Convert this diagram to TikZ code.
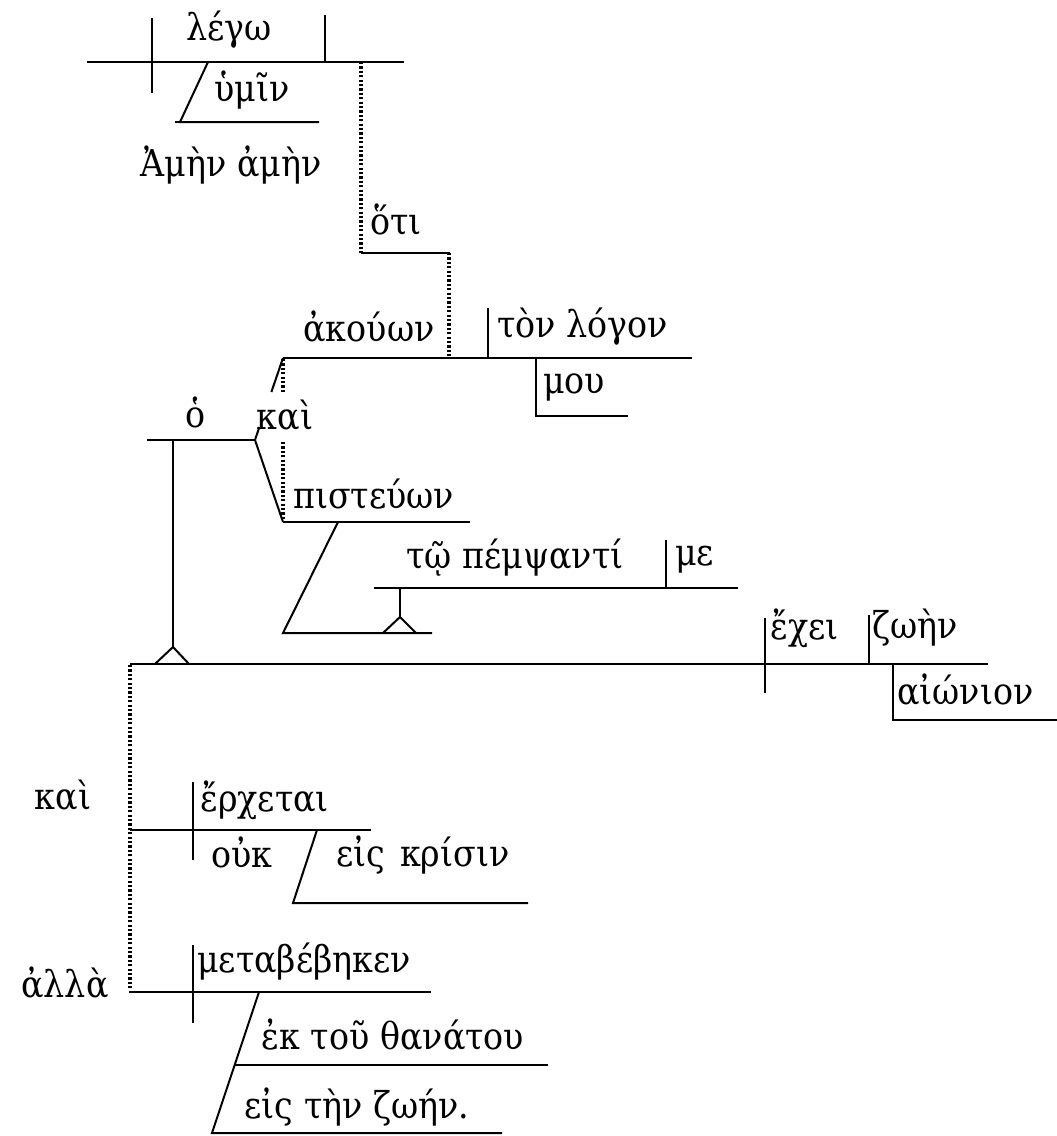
\documentclass[tikz,border=0pt]{standalone}
\usepackage{fontspec}
\setmainfont{DejaVu Serif}[FakeStretch=0.9]
\begin{document}
\begin{tikzpicture}[x=1pt,y=-1pt,
  ln/.style={line width=2pt},
  dl/.style={line width=3.3pt,dash pattern=on 2.2pt off 2.2pt},
  wd/.style={inner sep=0pt,font=\fontsize{37}{44}\selectfont},
  ww/.style={wd,anchor=west}]
\useasboundingbox (0,0) rectangle (1057,1136);
% ---- main clause: lego
\draw[ln] (87,62) -- (404,62);
\draw[ln] (152,18) -- (152,93);
\draw[ln] (325,15) -- (325,62);
\node[wd] (lego) at (229,30) {λέγω};
\draw[ln] (208,62) -- (180,122) -- (319,122);
\draw[ln] (175,122) -- (180,122);
\node[wd] (hymin) at (252,90) {ὑμῖν};
\node[wd] (amen) at (231,165) {Ἀμὴν ἀμὴν};
% ---- hoti
\draw[dl] (361,62) -- (361,253);
\node[ww] (hoti) at (370,220) {ὅτι};
\draw[ln] (361,253) -- (450,253);
\draw[dl] (449,253) -- (449,357);
% ---- akouon
\draw[ln] (283,358) -- (692,358);
\node[wd] (akouon) at (369,327) {ἀκούων};
\draw[ln] (488,308) -- (488,358);
\node[ww] (logon) at (497,327) {τὸν λόγον};
\draw[ln] (536,358) -- (536,416) -- (628,416);
\node[ww] (mou) at (543,387) {μου};
% ---- fork with kai
\draw[ln] (283,358) -- (271.4,392);
\draw[ln] (259.4,427) -- (255,440);
\draw[dl] (283,359) -- (283,392);
\node[wd] (kai1) at (285,415) {καὶ};
\draw[dl] (283,442) -- (283,521);
\draw[ln] (255,440) -- (283,522);
\draw[ln] (147,440) -- (255,440);
\node[wd] (ho) at (196,412) {ὁ};
% ---- pisteuon
\draw[ln] (283,522) -- (470,522);
\node[ww] (pisteuon) at (293,494) {πιστεύων};
\draw[ln] (338,522) -- (283,633) -- (432,633);
\draw[ln] (383,633) -- (400,617) -- (416,633);
\draw[ln] (400,617) -- (400,588);
\draw[ln] (374,588) -- (738,588);
\draw[ln] (666,540) -- (666,588);
\node[wd] (pempsanti) at (515,558) {τῷ πέμψαντί};
\node[ww] (me) at (675,560) {με};
% ---- subject stem
\draw[ln] (173,440) -- (173,647);
\draw[ln] (155,664) -- (173,647) -- (189,664);
% ---- main line echei
\draw[ln] (130,664) -- (988,664);
\draw[ln] (765,618) -- (765,693);
\node[ww] (echei) at (770,628) {ἔχει};
\draw[ln] (869,615) -- (869,664);
\node[ww] (zoen) at (872,628) {ζωὴν};
\draw[ln] (893,664) -- (893,720) -- (1057,720);
\node[ww] (aionion) at (897,690) {αἰώνιον};
% ---- compound dotted
\draw[dl] (130,665) -- (130,990);
\node[wd] (kai2) at (63,795) {καὶ};
\draw[ln] (130,830) -- (371,830);
\draw[ln] (193,782) -- (193,860);
\node[ww] (erchetai) at (200,800) {ἔρχεται};
\node[wd] (ouk) at (242,852) {οὐκ};
\draw[ln] (317,830) -- (293,903) -- (528,903);
\node[wd] (krisin) at (423,855) {εἰς\hspace{0.4em}κρίσιν};
% ---- alla
\node[wd] (alla) at (65,983) {ἀλλὰ};
\draw[ln] (129,992) -- (431,992);
\draw[ln] (193,945) -- (193,1023);
\node[ww] (metabebeken) at (197,962) {μεταβέβηκεν};
\draw[ln] (259,992) -- (212,1133) -- (502,1133);
\draw[ln] (235,1065) -- (548,1065);
\node[wd] (thanatou) at (393,1035) {ἐκ τοῦ θανάτου};
\node[wd] (zoen2) at (357,1107) {εἰς τὴν ζωήν.};
\end{tikzpicture}
\end{document}
